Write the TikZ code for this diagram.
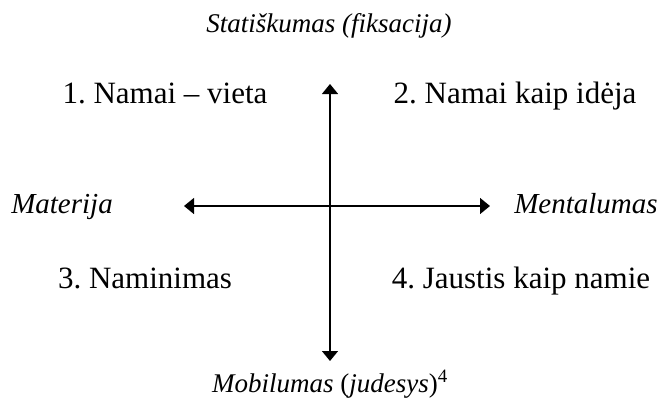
\documentclass[tikz,border=0pt]{standalone}
\usepackage{fontspec}
\setmainfont{Liberation Serif}
\usetikzlibrary{arrows.meta}
\begin{document}
\frenchspacing
\begin{tikzpicture}[x=1pt,y=-1pt,
  lbl/.style={inner sep=0pt,anchor=base},
  quad/.style={lbl,font=\fontsize{31}{36}\selectfont},
  pole/.style={lbl,font=\fontsize{27}{32}\selectfont},
  side/.style={lbl,font=\fontsize{29}{34}\selectfont\itshape},
  axis/.style={line width=1.4pt,{Triangle[length=10pt,width=16pt]}-{Triangle[length=10pt,width=16pt]}}]
\useasboundingbox (0,0) rectangle (664,405);
% axis end points
\coordinate (top) at (330,84);
\coordinate (bot) at (330,361);
\coordinate (lft) at (184,206);
\coordinate (rgt) at (490,206);
\draw[axis] (top) -- (bot);
\draw[axis] (lft) -- (rgt);
% pole labels
\node[pole] (stat) at (329,32) {\itshape Statiškumas (fiksacija)};
\node[pole] (mob) at (330,392) {\textit{Mobilumas} (\textit{judesys})\textsuperscript{4}};
\node[side] (mat) at (62,213) {Materija};
\node[side] (men) at (586,213) {Mentalumas};
% quadrant labels
\node[quad] (q1) at (165,103) {1. Namai – vieta};
\node[quad] (q2) at (515,103) {2. Namai kaip idėja};
\node[quad] (q3) at (145,288) {3. Naminimas};
\node[quad] (q4) at (521,288) {4. Jaustis kaip namie};
\end{tikzpicture}
\end{document}
